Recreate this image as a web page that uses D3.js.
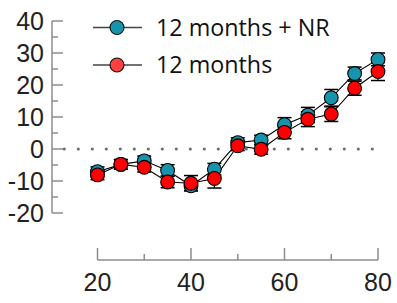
<!DOCTYPE html>
<html>
<head>
<meta charset="utf-8">
<script src="https://cdn.jsdelivr.net/npm/d3@7"></script>
<style>
  body { margin: 0; background: #fff; }
</style>
</head>
<body>
<script>
const ages = [20, 25, 30, 35, 40, 45, 50, 55, 60, 65, 70, 75, 80];
const nrValues = [-7.1, -4.8, -3.7, -6.7, -11.5, -6.3, 2.0, 2.8, 7.6, 10.6, 16.0, 23.6, 28.0];
const nrErrors = [1.5, 1.5, 1.5, 1.8, 1.5, 1.8, 1.5, 1.5, 2.2, 2.4, 2.6, 2.0, 2.0];
const mValues = [-8.1, -4.8, -5.7, -10.3, -10.7, -9.2, 1.0, -0.1, 5.2, 9.3, 10.9, 19.0, 24.2];
const mErrors = [1.5, 1.5, 1.5, 1.8, 2.4, 3.0, 1.5, 1.5, 2.0, 2.3, 2.3, 2.2, 2.8];
const seriesNames = ["12 months + NR", "12 months"];
const xTicks = [20, 40, 60, 80];
const yTicks = [-20, -10, 0, 10, 20, 30, 40];

const w = 397, h = 303;
const teal = "#1793ac", red = "#ff0000";

const svg = d3.select("body").append("svg")
  .attr("width", w).attr("height", h);

const x = d3.scaleLinear().domain([20, 80]).range([97.5, 378]);
const y = d3.scaleLinear().domain([-20, 40]).range([213, 21]);

const axisColor = "#8c8c8c";
const tickFont = "Liberation Sans, Arial, sans-serif";

// y axis
const ya = svg.append("g");
ya.append("line")
  .attr("x1", 52).attr("x2", 52)
  .attr("y1", y(40)).attr("y2", y(-20))
  .attr("stroke", axisColor).attr("stroke-width", 1.5);
ya.selectAll("line.tick")
  .data(d3.range(-20, 41, 5))
  .join("line")
  .attr("class", "tick")
  .attr("x1", 52)
  .attr("x2", d => d % 10 === 0 ? 63 : 58)
  .attr("y1", d => y(d)).attr("y2", d => y(d))
  .attr("stroke", axisColor).attr("stroke-width", 1.5);
ya.selectAll("text")
  .data(yTicks)
  .join("text")
  .attr("x", 44)
  .attr("y", d => y(d))
  .attr("dy", "0.36em")
  .attr("text-anchor", "end")
  .style("font-family", tickFont)
  .attr("font-size", 25)
  .attr("fill", "#222")
  .text(d => d);

// x axis
const xa = svg.append("g");
xa.append("line")
  .attr("x1", x(20)).attr("x2", x(80))
  .attr("y1", 260).attr("y2", 260)
  .attr("stroke", axisColor).attr("stroke-width", 1.5);
xa.selectAll("line.tick")
  .data(d3.range(20, 81, 10))
  .join("line")
  .attr("class", "tick")
  .attr("x1", d => x(d)).attr("x2", d => x(d))
  .attr("y1", 260)
  .attr("y2", d => d % 20 === 0 ? 248 : 254)
  .attr("stroke", axisColor).attr("stroke-width", 1.5);
xa.selectAll("text")
  .data(xTicks)
  .join("text")
  .attr("x", d => x(d))
  .attr("y", 291)
  .attr("text-anchor", "middle")
  .style("font-family", tickFont)
  .attr("font-size", 25)
  .attr("fill", "#222")
  .text(d => d);

// zero reference (dotted)
svg.append("line")
  .attr("x1", 64.3).attr("x2", 375)
  .attr("y1", y(0)).attr("y2", y(0))
  .attr("stroke", "#6e6e6e")
  .attr("stroke-width", 3.2)
  .attr("stroke-linecap", "round")
  .attr("stroke-dasharray", "0,14");

const series = [
  { values: nrValues, errors: nrErrors, color: teal },
  { values: mValues, errors: mErrors, color: red }
].map(s => ({ ...s, pts: ages.map((a, i) => ({ a, v: s.values[i], e: s.errors[i] })) }));

// lines and error bars first, markers on top
const under = svg.append("g");
series.forEach(s => {
  under.append("path")
    .datum(s.pts)
    .attr("d", d3.line().x(d => x(d.a)).y(d => y(d.v)))
    .attr("fill", "none")
    .attr("stroke", "#000")
    .attr("stroke-width", 1.1);
  const eb = under.append("g").selectAll("g").data(s.pts).join("g");
  eb.append("line")
    .attr("x1", d => x(d.a)).attr("x2", d => x(d.a))
    .attr("y1", d => y(d.v - d.e)).attr("y2", d => y(d.v + d.e))
    .attr("stroke", "#000").attr("stroke-width", 1.2);
  [-1, 1].forEach(sg => {
    eb.append("line")
      .attr("x1", d => x(d.a) - 7).attr("x2", d => x(d.a) + 7)
      .attr("y1", d => y(d.v + sg * d.e)).attr("y2", d => y(d.v + sg * d.e))
      .attr("stroke", "#000").attr("stroke-width", 1.5);
  });
});
series.forEach(s => {
  svg.append("g").selectAll("circle")
    .data(s.pts)
    .join("circle")
    .attr("cx", d => x(d.a))
    .attr("cy", d => y(d.v))
    .attr("r", 6.9)
    .attr("fill", s.color)
    .attr("stroke", "#000")
    .attr("stroke-width", 1.1);
});

// legend
const legend = svg.append("g");
const legendColors = [teal, "#ff4040"];
seriesNames.forEach((name, i) => {
  const ly = 27.5 + i * 37.5;
  legend.append("line")
    .attr("x1", 93).attr("x2", 142)
    .attr("y1", ly).attr("y2", ly)
    .attr("stroke", "#444").attr("stroke-width", 1.5);
  legend.append("circle")
    .attr("cx", 117).attr("cy", ly).attr("r", 7)
    .attr("fill", legendColors[i])
    .attr("stroke", "#111").attr("stroke-width", 1.1);
  legend.append("text")
    .attr("x", 156).attr("y", ly)
    .attr("dy", "0.35em")
    .style("font-family", "Open Sans, Noto Sans, sans-serif")
    .attr("font-size", 23.3)
    .attr("fill", "#111")
    .text(name);
});
</script>
</body>
</html>
